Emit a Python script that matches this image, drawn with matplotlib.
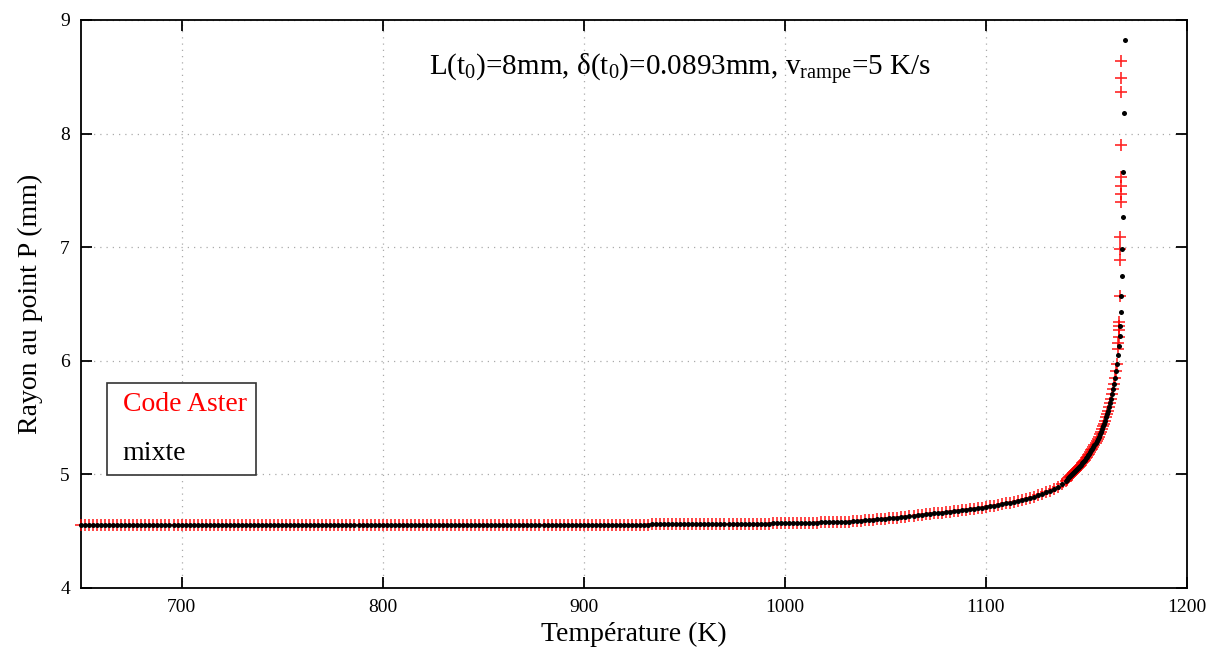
import matplotlib
matplotlib.use("Agg")
import matplotlib.pyplot as plt

# dense part of the curve, common to both series
temp_common = [
    650, 652, 654, 656, 658, 660, 662, 664, 666, 668, 670, 672, 674, 676, 678, 680, 682, 684, 686, 688, 690, 692, 694, 696, 698,
    700, 702, 704, 706, 708, 710, 712, 714, 716, 718, 720, 722, 724, 726, 728, 730, 732, 734, 736, 738, 740, 742, 744, 746, 748,
    750, 752, 754, 756, 758, 760, 762, 764, 766, 768, 770, 772, 774, 776, 778, 780, 782, 784, 786, 788, 790, 792, 794, 796, 798,
    800, 802, 804, 806, 808, 810, 812, 814, 816, 818, 820, 822, 824, 826, 828, 830, 832, 834, 836, 838, 840, 842, 844, 846, 848,
    850, 852, 854, 856, 858, 860, 862, 864, 866, 868, 870, 872, 874, 876, 878, 880, 882, 884, 886, 888, 890, 892, 894, 896, 898,
    900, 902, 904, 906, 908, 910, 912, 914, 916, 918, 920, 922, 924, 926, 928, 930, 932, 934, 936, 938, 940, 942, 944, 946, 948,
    950, 952, 954, 956, 958, 960, 962, 964, 966, 968, 970, 972, 974, 976, 978, 980, 982, 984, 986, 988, 990, 992, 994, 996, 998,
    1000, 1002, 1004, 1006, 1008, 1010, 1012, 1014, 1016, 1018, 1020, 1022, 1024, 1026, 1028, 1030, 1032, 1034, 1036, 1038, 1040, 1042, 1044, 1046, 1048,
    1050, 1052, 1054, 1056, 1058, 1060, 1062, 1064, 1066, 1068, 1070, 1072, 1074, 1076, 1078, 1080, 1082, 1084, 1086, 1088, 1090, 1092, 1094, 1096, 1098,
    1100, 1102, 1104, 1106, 1108, 1110, 1112, 1114, 1116, 1118, 1120, 1122, 1124, 1126, 1128, 1130, 1132, 1134, 1136, 1138, 1140,
    1140.5, 1141, 1141.5, 1142, 1142.5, 1143, 1143.5, 1144, 1144.5, 1145,
    1145.5, 1146, 1146.5, 1147, 1147.5, 1148, 1148.5, 1149, 1149.5, 1150,
    1150.5, 1151, 1151.5, 1152, 1152.5, 1153, 1153.5, 1154, 1154.5, 1155,
    1155.5, 1156, 1156.5, 1157, 1157.5, 1158, 1158.5, 1159, 1159.5, 1160,
    1160.5, 1161, 1161.5, 1162, 1162.5, 1163, 1163.5, 1164, 1164.5, 1165,
]
radius_common = [
    4.555, 4.555, 4.555, 4.555, 4.555, 4.555, 4.555, 4.555, 4.555, 4.555, 4.555, 4.555, 4.555, 4.555, 4.555, 4.555, 4.555, 4.555, 4.555, 4.555, 4.555, 4.555, 4.555, 4.555, 4.555,
    4.555, 4.555, 4.555, 4.555, 4.555, 4.555, 4.555, 4.555, 4.555, 4.555, 4.555, 4.555, 4.555, 4.555, 4.555, 4.555, 4.555, 4.555, 4.555, 4.555, 4.555, 4.555, 4.555, 4.555, 4.555,
    4.555, 4.555, 4.555, 4.555, 4.555, 4.555, 4.555, 4.555, 4.555, 4.555, 4.555, 4.555, 4.555, 4.555, 4.555, 4.555, 4.555, 4.555, 4.555, 4.555, 4.555, 4.555, 4.555, 4.555, 4.555,
    4.555, 4.555, 4.555, 4.555, 4.555, 4.555, 4.555, 4.555, 4.555, 4.555, 4.555, 4.555, 4.555, 4.555, 4.555, 4.555, 4.555, 4.555, 4.555, 4.555, 4.555, 4.555, 4.555, 4.555, 4.555,
    4.555, 4.555, 4.555, 4.555, 4.555, 4.555, 4.555, 4.555, 4.555, 4.555, 4.555, 4.555, 4.555, 4.555, 4.555, 4.555, 4.555, 4.555, 4.555, 4.555, 4.555, 4.555, 4.555, 4.555, 4.555,
    4.555, 4.555, 4.556, 4.556, 4.556, 4.556, 4.556, 4.557, 4.557, 4.557, 4.557, 4.557, 4.558, 4.558, 4.558, 4.558, 4.558, 4.559, 4.559, 4.559, 4.559, 4.560, 4.560, 4.560, 4.560,
    4.560, 4.561, 4.561, 4.561, 4.562, 4.562, 4.562, 4.563, 4.563, 4.563, 4.564, 4.564, 4.564, 4.565, 4.565, 4.565, 4.566, 4.566, 4.566, 4.567, 4.567, 4.567, 4.568, 4.568, 4.568,
    4.568, 4.569, 4.570, 4.571, 4.572, 4.573, 4.574, 4.575, 4.576, 4.577, 4.578, 4.579, 4.580, 4.581, 4.582, 4.583, 4.584, 4.587, 4.590, 4.593, 4.596, 4.599, 4.602, 4.605, 4.608,
    4.611, 4.614, 4.617, 4.620, 4.624, 4.628, 4.632, 4.636, 4.640, 4.644, 4.648, 4.652, 4.656, 4.660, 4.664, 4.668, 4.672, 4.676, 4.680, 4.684, 4.688, 4.692, 4.697, 4.702, 4.707,
    4.712, 4.718, 4.724, 4.730, 4.737, 4.744, 4.751, 4.759, 4.767, 4.776, 4.785, 4.795, 4.805, 4.816, 4.828, 4.841, 4.855, 4.872, 4.893, 4.918, 4.945,
    4.955, 4.965, 4.974, 4.983, 4.992, 5.001, 5.010, 5.019, 5.028, 5.037,
    5.046, 5.055, 5.065, 5.075, 5.085, 5.096, 5.107, 5.118, 5.130, 5.142,
    5.155, 5.168, 5.182, 5.196, 5.211, 5.226, 5.242, 5.259, 5.276, 5.294,
    5.313, 5.333, 5.354, 5.376, 5.399, 5.423, 5.448, 5.474, 5.501, 5.530,
    5.561, 5.594, 5.630, 5.668, 5.708, 5.752, 5.800, 5.852, 5.910, 5.975,
]

# sparse points near the top, where the two series separate
aster_temp_top = [1165.6, 1165.8, 1166.0, 1166.2, 1166.3, 1166.4, 1166.6, 1166.8, 1166.8,
                  1166.9, 1167.0, 1167.0, 1167.0, 1167.1, 1167.1, 1167.2, 1167.2, 1167.2]
aster_radius_top = [6.10, 6.16, 6.21, 6.27, 6.31, 6.34, 6.57, 6.89, 6.98,
                    7.09, 7.40, 7.47, 7.54, 7.62, 7.90, 8.37, 8.49, 8.64]
mixte_temp_top = [1165.5, 1166.0, 1166.5, 1166.9, 1167.2, 1167.4, 1167.6, 1167.9,
                  1168.2, 1168.4, 1168.7, 1169.1]
mixte_radius_top = [6.05, 6.13, 6.22, 6.31, 6.43, 6.57, 6.75, 6.98,
                    7.27, 7.66, 8.18, 8.82]

xticks = [700, 800, 900, 1000, 1100, 1200]
yticks = [4, 5, 6, 7, 8, 9]

plt.rcParams["font.family"] = ["Liberation Serif", "DejaVu Serif"]
plt.rcParams["mathtext.fontset"] = "custom"
plt.rcParams["mathtext.rm"] = "Liberation Serif"
plt.rcParams["mathtext.it"] = "Liberation Serif:italic"

fig = plt.figure(figsize=(12.14, 6.49), dpi=100)
ax = fig.add_axes([81 / 1214, 61 / 649, 1106 / 1214, 568 / 649])

aster, = ax.plot(temp_common + aster_temp_top, radius_common + aster_radius_top,
                 linestyle="none", marker="+", markersize=9, markeredgewidth=1.2,
                 color="#ff0000", alpha=0.85, clip_on=False, label="Code Aster", zorder=3)
mixte, = ax.plot(temp_common + mixte_temp_top, radius_common + mixte_radius_top,
                 linestyle="none", marker="o", markersize=3.6, markeredgewidth=0,
                 color="black", clip_on=False, label="mixte", zorder=4)

ax.set_xlim(650, 1200)
ax.set_ylim(4, 9)
ax.set_xticks(xticks)
ax.set_yticks(yticks)
ax.tick_params(direction="in", length=8, width=1.3, top=True, right=True,
               labelsize=14, pad=8)
for s in ax.spines.values():
    s.set_linewidth(1.3)
ax.grid(True, linestyle=(0, (1, 4)), color="#aaaaaa", linewidth=0.9)

ax.set_xlabel("Température (K)", fontsize=20, labelpad=4)
ax.set_ylabel("Rayon au point P (mm)", fontsize=20, labelpad=12)

ax.text(0.5416, 0.912,
        r"L(t$_\mathrm{0}$)=8mm, δ(t$_\mathrm{0}$)=0.0893mm, v$_\mathrm{rampe}$=5 K/s",
        transform=ax.transAxes, ha="center", va="center", fontsize=21)

leg = ax.legend(handles=[aster, mixte], loc="lower left",
                bbox_to_anchor=(0.0235, 0.199), borderaxespad=0, fontsize=20,
                handlelength=0, handletextpad=0.25, fancybox=False, framealpha=1,
                edgecolor="#333333", borderpad=0.32, labelspacing=0.85)
leg.get_frame().set_linewidth(1.2)
for h in leg.legend_handles:
    h.set_visible(False)
leg.get_texts()[0].set_color("#ff0000")
leg.get_texts()[1].set_color("black")

fig.savefig("out.png", dpi=100)
